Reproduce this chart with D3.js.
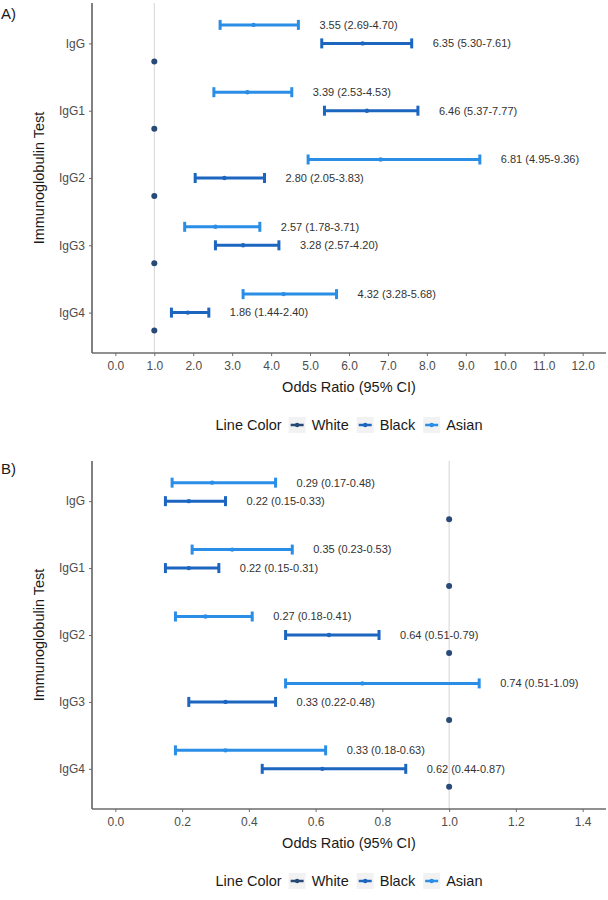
<!DOCTYPE html>
<html>
<head>
<meta charset="utf-8">
<script src="https://cdn.jsdelivr.net/npm/d3@7"></script>
<style>
  body { margin: 0; background: #fff; }
  svg { font-family: "Liberation Sans", Arial, sans-serif; display: block; }
  .tick text { fill: #4d4d4d; }
</style>
</head>
<body>
<svg id="chart" width="608" height="900"></svg>
<script>
// ---------- data ----------
let tests = ["IgG", "IgG1", "IgG2", "IgG3", "IgG4"];
let groups = ["White", "Black", "Asian"];

// panel A
let asianA   = [3.55, 3.39, 6.81, 2.57, 4.32];
let asianALo = [2.69, 2.53, 4.95, 1.78, 3.28];
let asianAHi = [4.70, 4.53, 9.36, 3.71, 5.68];
let blackA   = [6.35, 6.46, 2.80, 3.28, 1.86];
let blackALo = [5.30, 5.37, 2.05, 2.57, 1.44];
let blackAHi = [7.61, 7.77, 3.83, 4.20, 2.40];
let ticksA = [0, 1, 2, 3, 4, 5, 6, 7, 8, 9, 10, 11, 12];

// panel B
let asianB   = [0.29, 0.35, 0.27, 0.74, 0.33];
let asianBLo = [0.17, 0.23, 0.18, 0.51, 0.18];
let asianBHi = [0.48, 0.53, 0.41, 1.09, 0.63];
let blackB   = [0.22, 0.22, 0.64, 0.33, 0.62];
let blackBLo = [0.15, 0.15, 0.51, 0.22, 0.44];
let blackBHi = [0.33, 0.31, 0.79, 0.48, 0.87];
let ticksB = [0, 0.2, 0.4, 0.6, 0.8, 1.0, 1.2, 1.4];

// White = reference group
let whiteRef = 1.0;

let COLORS = { White: "#284a78", Black: "#1c66c0", Asian: "#2a8de6" };
let OFFSET = { Asian: -18.5, Black: 0, White: 18 };

function rows(or, lo, hi, group) {
  return tests.map((t, i) => ({ test: t, group, or: or[i], lo: lo[i], hi: hi[i] }));
}

let svg = d3.select("#chart");

function drawPanel(opts) {
  let left = 92, right = 606;
  let top = opts.top, bottom = opts.bottom;
  let g = svg.append("g");

  let span = opts.max - opts.min;
  let x = d3.scaleLinear()
    .domain([opts.min - span * 0.05, opts.max + span * 0.05])
    .range([left, right]);

  let y = d3.scalePoint()
    .domain(tests)
    .range([top, bottom])
    .padding(0.6);

  // reference line at 1
  g.append("line")
    .attr("x1", x(whiteRef)).attr("x2", x(whiteRef))
    .attr("y1", top).attr("y2", bottom)
    .attr("stroke", "#d4d4d4").attr("stroke-width", 1);

  // axes
  let xAxis = g.append("g")
    .attr("transform", `translate(0,${bottom})`)
    .call(d3.axisBottom(x).tickValues(opts.ticks).tickFormat(d3.format(".1f")).tickSize(3).tickPadding(5));
  let yAxis = g.append("g")
    .attr("transform", `translate(${left},0)`)
    .call(d3.axisLeft(y).tickSize(3).tickPadding(4));
  [xAxis, yAxis].forEach(a => {
    a.select(".domain").attr("stroke", "#6b6b6b").attr("stroke-width", 1.7);
    a.selectAll(".tick line").attr("stroke", "#6b6b6b");
    a.selectAll(".tick text").attr("font-size", 12);
  });
  yAxis.select(".domain").attr("d", `M0,${top}V${bottom}`);
  xAxis.select(".domain").attr("d", `M${left},0H${right}`);

  // reference dots (White)
  g.selectAll("circle.ref")
    .data(tests)
    .join("circle")
    .attr("class", "ref")
    .attr("cx", x(whiteRef))
    .attr("cy", d => y(d) + OFFSET.White)
    .attr("r", 3)
    .attr("fill", COLORS.White);

  // error bars
  let data = opts.data;
  let bars = g.selectAll("g.bar")
    .data(data)
    .join("g")
    .attr("class", "bar")
    .attr("transform", d => `translate(0,${y(d.test) + OFFSET[d.group]})`);

  bars.append("line")
    .attr("x1", d => x(d.lo)).attr("x2", d => x(d.hi))
    .attr("stroke", d => COLORS[d.group]).attr("stroke-width", 3);
  bars.selectAll("line.cap")
    .data(d => [d.lo, d.hi].map(v => ({ v, group: d.group })))
    .join("line")
    .attr("class", "cap")
    .attr("x1", d => x(d.v)).attr("x2", d => x(d.v))
    .attr("y1", -5).attr("y2", 5)
    .attr("stroke", d => COLORS[d.group]).attr("stroke-width", 3);
  bars.append("circle")
    .attr("cx", d => x(d.or)).attr("r", 2.2)
    .attr("fill", d => COLORS[d.group]);
  bars.append("text")
    .attr("x", d => x(d.hi) + 21)
    .attr("dy", "0.35em")
    .attr("font-size", 11)
    .attr("fill", "#333")
    .text(d => `${d.or.toFixed(2)} (${d.lo.toFixed(2)}-${d.hi.toFixed(2)})`);

  // titles
  let cx = (left + right) / 2;
  g.append("text")
    .attr("x", cx).attr("y", bottom + 39)
    .attr("text-anchor", "middle").attr("font-size", 14.5).attr("fill", "#1a1a1a")
    .text("Odds Ratio (95% CI)");
  g.append("text")
    .attr("transform", `translate(44,${(top + bottom) / 2}) rotate(-90)`)
    .attr("text-anchor", "middle").attr("font-size", 14.5).attr("fill", "#1a1a1a")
    .text("Immunoglobulin Test");
  g.append("text")
    .attr("x", 1).attr("y", opts.labelY)
    .attr("font-size", 15).attr("fill", "#1a1a1a")
    .text(opts.label);

  // legend
  let leg = g.append("g");
  let lt = leg.append("text").attr("dy", "0.35em").attr("font-size", 14.5).attr("fill", "#1a1a1a").text("Line Color");
  let pos = lt.node().getComputedTextLength() + 7;
  groups.forEach(gr => {
    leg.append("rect").attr("x", pos).attr("y", -8).attr("width", 17).attr("height", 16).attr("fill", "#f2f2f2");
    leg.append("line").attr("x1", pos + 2).attr("x2", pos + 15)
      .attr("stroke", COLORS[gr]).attr("stroke-width", 2.5);
    leg.append("circle").attr("cx", pos + 8.5).attr("r", 2.2).attr("fill", COLORS[gr]);
    pos += 23;
    let t = leg.append("text").attr("x", pos).attr("dy", "0.35em").attr("font-size", 14.5).attr("fill", "#1a1a1a").text(gr);
    pos += t.node().getComputedTextLength() + 8;
  });
  leg.attr("transform", `translate(${cx - (pos - 8) / 2},${bottom + 72})`);
}

drawPanel({
  label: "A)", labelY: 19, top: 3, bottom: 353,
  min: 0, max: 12, ticks: ticksA,
  data: rows(asianA, asianALo, asianAHi, "Asian").concat(rows(blackA, blackALo, blackAHi, "Black"))
});

drawPanel({
  label: "B)", labelY: 474, top: 461, bottom: 809,
  min: 0, max: 1.4, ticks: ticksB,
  data: rows(asianB, asianBLo, asianBHi, "Asian").concat(rows(blackB, blackBLo, blackBHi, "Black"))
});
</script>
</body>
</html>
